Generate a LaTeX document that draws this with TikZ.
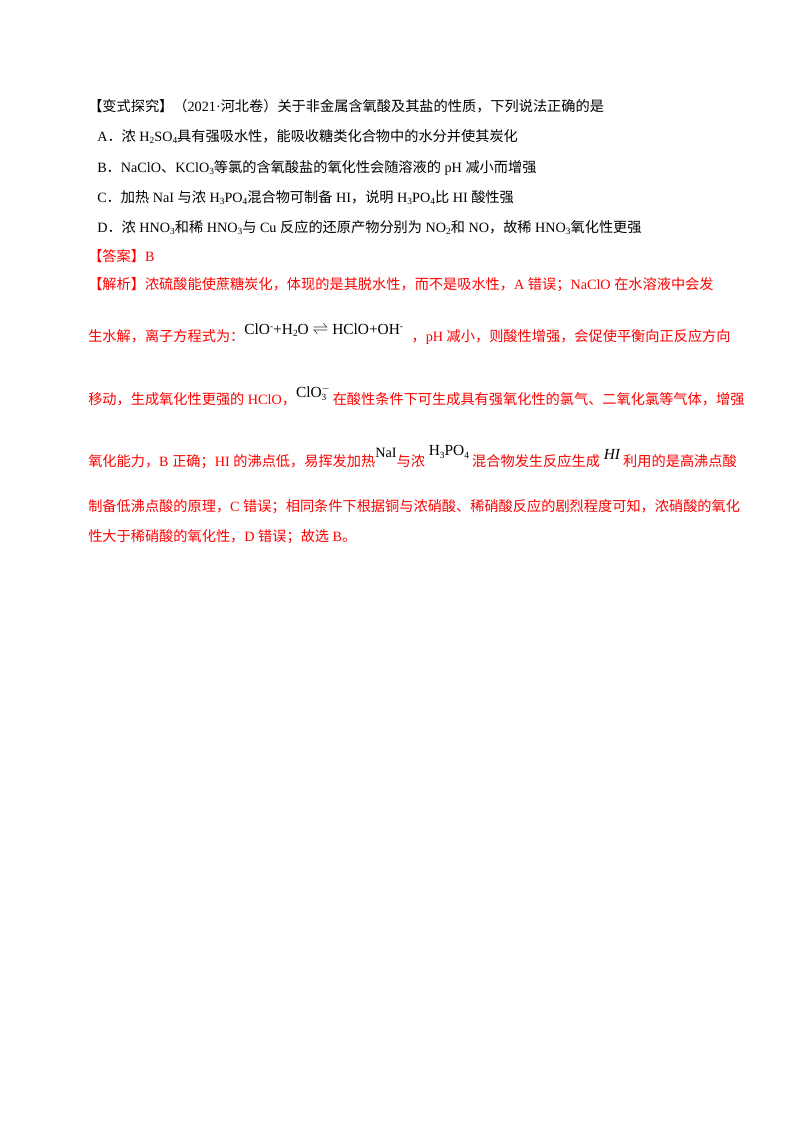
\documentclass[tikz,border=0pt]{standalone}
\usepackage{fontspec}
\setmainfont{Noto Sans CJK SC}
\newfontfamily\tms{Liberation Serif}
\newcommand{\en}[1]{{\tms #1}}
\newcommand{\lo}[1]{\raisebox{-0.35ex}{\scriptsize #1}}
\newcommand{\hi}[1]{\raisebox{0.7ex}{\scriptsize #1}}
\newcommand{\both}[2]{\makebox[0pt][l]{\raisebox{0.8ex}{\scriptsize #1}}\raisebox{-0.45ex}{\scriptsize #2}}
\usetikzlibrary{positioning}
\definecolor{ansred}{RGB}{255,0,0}
\tikzset{
  line/.style={anchor=base west, inner sep=0pt, font=\fontsize{10.6pt}{12pt}\selectfont},
  red line/.style={line, text=ansred}
}
\begin{document}
\begin{tikzpicture}[x=0.02625cm,y=-0.02625cm]
  \useasboundingbox (0,0) rectangle (800,1132);
  % question
  \node[line] (q0) at (88,111) {【变式探究】（\en{2021·}河北卷）关于非金属含氧酸及其盐的性质，下列说法正确的是};
  \node[line] (qa) at (97,141) {\en{A}．浓\en{ H\lo{2}SO\lo{4}}具有强吸水性，能吸收糖类化合物中的水分并使其炭化};
  \node[line] (qb) at (97,172) {\en{B}．\en{NaClO}、\en{KClO\lo{3}}等氯的含氧酸盐的氧化性会随溶液的\en{ pH }减小而增强};
  \node[line] (qc) at (97,202) {\en{C}．加热\en{ NaI }与浓\en{ H\lo{3}PO\lo{4}}混合物可制备\en{ HI}，说明\en{ H\lo{3}PO\lo{4}}比\en{ HI }酸性强};
  \node[line] (qd) at (97,232) {\en{D}．浓\en{ HNO\lo{3}}和稀\en{ HNO\lo{3}}与\en{ Cu }反应的还原产物分别为\en{ NO\lo{2}}和\en{ NO}，故稀\en{ HNO\lo{3}}氧化性更强};
  % answer
  \node[red line] (ans) at (88,261) {【答案】\en{B}};
  \node[red line] (ex1) at (88,289) {【解析】浓硫酸能使蔗糖炭化，体现的是其脱水性，而不是吸水性，\en{A }错误；\en{NaClO }在水溶液中会发};
  \node[red line] (ex2) at (88,341) {生水解，离子方程式为：\raisebox{0.9ex}{\textcolor{black}{\fontsize{11.5pt}{12pt}\tms ClO\hi{-}+H\lo{2}O $\rightleftharpoons$ HClO+OH\hi{-}}}\hspace{0.6em}，\en{pH }减小，则酸性增强，会促使平衡向正反应方向};
  \node[red line] (ex3) at (88,404) {移动，生成氧化性更强的\en{ HClO}，\raisebox{0.9ex}{\textcolor{black}{\fontsize{11.5pt}{12pt}\tms ClO\both{$-$}{3}}}\ \ 在酸性条件下可生成具有强氧化性的氯气、二氧化氯等气体，增强};
  \node[red line] (ex4) at (88,466) {氧化能力，\en{B }正确；\en{HI }的沸点低，易挥发加热\raisebox{1.1ex}{\textcolor{black}{\tms NaI}}与浓\raisebox{1.3ex}{\textcolor{black}{\fontsize{11.5pt}{12pt}\tms\ H\lo{3}PO\lo{4}}}\ 混合物发生反应生成\raisebox{0.8ex}{\textcolor{black}{\fontsize{11.5pt}{12pt}\tms\itshape\ HI}}\ 利用的是高沸点酸};
  \node[red line] (ex5) at (88,511) {制备低沸点酸的原理，\en{C }错误；相同条件下根据铜与浓硝酸、稀硝酸反应的剧烈程度可知，浓硝酸的氧化};
  \node[red line] (ex6) at (88,541) {性大于稀硝酸的氧化性，\en{D }错误；故选\en{ B}。};
\end{tikzpicture}
\end{document}
